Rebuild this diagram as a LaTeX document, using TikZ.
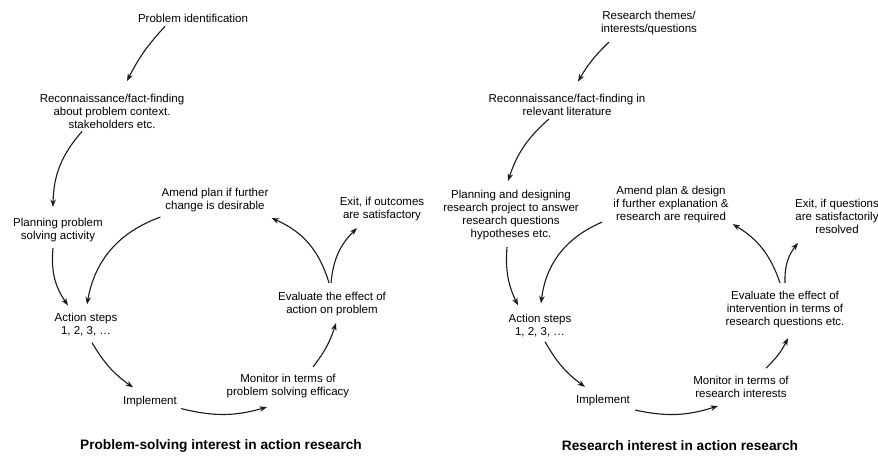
\documentclass[tikz,border=0pt]{standalone}
\usepackage{fontspec}
\setmainfont{Liberation Sans}
\usetikzlibrary{arrows.meta}
\begin{document}
\begin{tikzpicture}[x=1pt, y=1pt,
    lbl/.style={align=center, font=\fontsize{11.5}{13}\selectfont, inner sep=1pt, text=black},
    ttl/.style={font=\fontsize{13.7}{15}\selectfont\bfseries, inner sep=1pt},
    arr/.style={-{Stealth[length=7.5pt, width=5.5pt]}, line width=1.1pt, black!90}]
    \useasboundingbox (0,0) rectangle (878,456);
    % Problem-solving cycle (left)
    \node[lbl] (pid) at (193,438) {Problem identification};
    \node[lbl] (recon) at (112,345) {Reconnaissance/fact-finding\\about problem context.\\stakeholders etc.};
    \node[lbl] (plan) at (58,225.5) {Planning problem\\solving activity};
    \node[lbl] (amend) at (215,256) {Amend plan if further\\change is desirable};
    \node[lbl] (exit) at (382,246.5) {Exit, if outcomes\\are satisfactory};
    \node[lbl] (action) at (86,131) {Action steps\\1, 2, 3, \dots};
    \node[lbl] (impl) at (150,54) {Implement};
    \node[lbl] (monitor) at (288,69.5) {Monitor in terms of\\problem solving efficacy};
    \node[lbl] (eval) at (332,151.5) {Evaluate the effect of\\action on problem};
    \node[ttl] (title1) at (221,10) {Problem-solving interest in action research};
    \draw[arr] ([xshift=-28pt,yshift=-3pt]pid.south) to[bend right=8] ([xshift=15pt,yshift=11.5pt]recon.north);
    \draw[arr] ([xshift=-30pt,yshift=-2pt]recon.south) to[bend right=20] ([xshift=-5pt,yshift=10.5pt]plan.north);
    \draw[arr] ([xshift=-5pt,yshift=-4.5pt]plan.south) to[bend right=20] ([xshift=-18pt,yshift=7pt]action.north);
    \draw[arr] ([yshift=-4pt]amend.south west) to[bend right=30] ([xshift=1pt,yshift=8pt]action.north);
    \draw[arr] ([xshift=6pt,yshift=-5pt]action.south) to[bend right=12] ([xshift=-17pt,yshift=8pt]impl.north);
    \draw[arr] ([xshift=3pt]impl.south east) to[bend right=15] ([xshift=-21pt,yshift=-7.5pt]monitor.south);
    \draw[arr] ([xshift=25pt,yshift=6.5pt]monitor.north) to[bend right=10] ([xshift=4pt,yshift=-5.5pt]eval.south);
    \draw[arr] ([xshift=-3pt,yshift=8.5pt]eval.north) to[bend right=25] ([xshift=2pt,yshift=-5pt]amend.south east);
    \draw[arr] ([xshift=-1pt,yshift=8.5pt]eval.north) to[bend left=20] ([xshift=-25pt,yshift=-5.5pt]exit.south);
    % Research cycle (right)
    \node[lbl] (rth) at (649,432.5) {Research themes/\\interests/questions};
    \node[lbl] (rrecon) at (567,351.5) {Reconnaissance/fact-finding in\\relevant literature};
    \node[lbl] (rplan) at (511,241) {Planning and designing\\research project to answer\\research questions\\hypotheses etc.};
    \node[lbl] (ramend) at (671,251.5) {Amend plan \& design\\if further explanation \&\\research are required};
    \node[lbl] (rexit) at (837,240) {Exit, if questions\\are satisfactorily\\resolved};
    \node[lbl] (raction) at (540,130) {Action steps\\1, 2, 3, \dots};
    \node[lbl] (rimpl) at (603,55) {Implement};
    \node[lbl] (rmonitor) at (741,69) {Monitor in terms of\\research interests};
    \node[lbl] (reval) at (785,146) {Evaluate the effect of\\intervention in terms of\\research questions etc.};
    \node[ttl] (title2) at (680,10) {Research interest in action research};
    \draw[arr] ([xshift=-40pt,yshift=-5.5pt]rth.south) to[bend right=8] ([xshift=11pt,yshift=11pt]rrecon.north);
    \draw[arr] ([xshift=-18pt,yshift=-2.5pt]rrecon.south) to[bend right=15] ([xshift=-3pt,yshift=8pt]rplan.north);
    \draw[arr] ([xshift=-4pt,yshift=-6pt]rplan.south) to[bend right=15] ([xshift=-22pt,yshift=8pt]raction.north);
    \draw[arr] ([xshift=-10pt,yshift=2pt]ramend.south west) to[bend right=30] ([xshift=1pt,yshift=10pt]raction.north);
    \draw[arr] ([xshift=5pt,yshift=-3pt]raction.south) to[bend right=12] ([xshift=-18pt,yshift=7.5pt]rimpl.north);
    \draw[arr] ([xshift=4pt,yshift=-2.5pt]rimpl.south east) to[bend right=15] ([xshift=-23pt,yshift=-7pt]rmonitor.south);
    \draw[arr] ([xshift=25pt,yshift=7pt]rmonitor.north) to[bend right=10] ([xshift=3pt,yshift=-8.5pt]reval.south);
    \draw[arr] ([xshift=-5pt,yshift=7.5pt]reval.north) to[bend right=20] ([xshift=3pt]ramend.south east);
    \draw[arr] ([yshift=7.5pt]reval.north) to[bend left=20] ([xshift=-39pt,yshift=-8.5pt]rexit.south);
\end{tikzpicture}
\end{document}
